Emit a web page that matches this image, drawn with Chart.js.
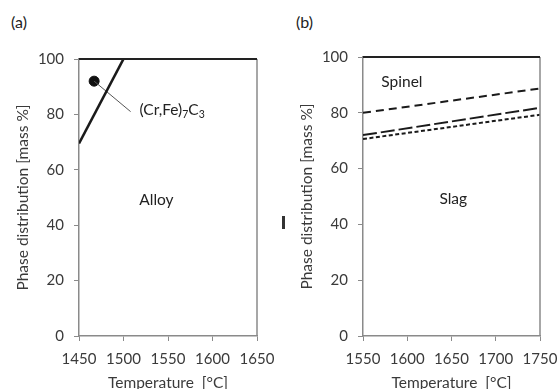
<!DOCTYPE html>
<html>
<head>
<meta charset="utf-8">
<script src="https://cdn.jsdelivr.net/npm/chart.js@4"></script>
<style>
  html, body { margin: 0; padding: 0; background: #fff; overflow: hidden; }
  #page { position: relative; width: 557px; height: 389px; overflow: hidden; }
  .panel { position: absolute; top: 0; }
  .tag { position: absolute; top: 12px; font: 16px Lato, sans-serif; color: #222; }
  #mark { position: absolute; left: 282px; top: 216px; width: 3px; height: 13px; background: #333; }
</style>
</head>
<body>
<div id="page">
  <div class="tag" style="left:11px">(a)</div>
  <div class="tag" style="left:296px">(b)</div>
  <canvas id="chartA" class="panel" style="left:0" width="275" height="395"></canvas>
  <canvas id="chartB" class="panel" style="left:280px" width="277" height="395"></canvas>
  <div id="mark"></div>
</div>
<script>
// Panel (a) data
const tempTicksA = [1450, 1500, 1550, 1600, 1650];
const boundaryTempA = [1450, 1500];
const boundaryValueA = [69.5, 100];
const carbideTemp = [1467];
const carbideValue = [92];
const leaderTemp = [1467, 1508];
const leaderValue = [92, 81];

// Panel (b) data
const tempTicksB = [1550, 1600, 1650, 1700, 1750];
const lineTempB = [1550, 1750];
const spinelUpper = [80, 88.7];
const longDashLine = [72, 81.8];
const shortDashLine = [70.6, 79.3];

const yTicks = [0, 20, 40, 60, 80, 100];

const fontFamily = 'Lato, sans-serif';
const textColor = '#3a3a3a';
const axisColor = '#8a8a8a';

function pts(xs, ys) {
  return xs.map(function(x, i) { return { x: x, y: ys[i] }; });
}

// frame (top + right edge) and text labels inside the plot
function makeOverlay(labels) {
  return {
    id: 'overlay',
    afterDatasetsDraw: function(chart) {
      const ctx = chart.ctx;
      const a = chart.chartArea;
      const xs = chart.scales.x;
      const ys = chart.scales.y;
      ctx.save();
      ctx.strokeStyle = axisColor;
      ctx.lineWidth = 1.5;
      ctx.beginPath();
      ctx.moveTo(a.right, a.top);
      ctx.lineTo(a.right, a.bottom);
      ctx.stroke();
      ctx.strokeStyle = '#222';
      ctx.lineWidth = 2;
      ctx.beginPath();
      ctx.moveTo(a.left, a.top);
      ctx.lineTo(a.right, a.top);
      ctx.stroke();

      ctx.fillStyle = '#222';
      ctx.textBaseline = 'middle';
      labels.forEach(function(l) {
        let x = xs.getPixelForValue(l.x);
        const y = ys.getPixelForValue(l.y);
        l.parts.forEach(function(p) {
          ctx.font = (p.sub ? 10.5 : 15.5) + 'px ' + fontFamily;
          ctx.textAlign = (l.align !== 'left' && l.parts.length === 1) ? 'center' : 'left';
          ctx.fillText(p.t, x, y + (p.sub ? 4 : 0));
          x += ctx.measureText(p.t).width;
        });
      });
      ctx.restore();
    }
  };
}

function makeOptions(xMin, xMax, xTicks, yAxisWidth, padTop, padRight, yTitlePad) {
  return {
    responsive: false,
    animation: false,
    devicePixelRatio: 1,
    layout: { padding: { top: padTop, right: padRight, left: 0, bottom: 0 } },
    plugins: { legend: { display: false }, tooltip: { enabled: false } },
    scales: {
      x: {
        type: 'linear',
        min: xMin,
        max: xMax,
        afterBuildTicks: function(scale) {
          scale.ticks = xTicks.map(function(v) { return { value: v }; });
        },
        afterFit: function(scale) {
          scale.height = 59;
          scale.paddingLeft = 0;
          scale.paddingRight = 0;
        },
        grid: { drawOnChartArea: false, drawTicks: true, tickLength: 5, color: axisColor },
        border: { color: axisColor, width: 1.5 },
        ticks: { maxRotation: 0, autoSkip: false, padding: 9, color: textColor,
                 font: { family: fontFamily, size: 15 },
                 callback: function(v) { return String(v); } },
        title: { display: true, text: 'Temperature  [°C]', color: textColor,
                 font: { family: fontFamily, size: 15.5, lineHeight: 1.2 },
                 padding: { top: 0, bottom: 3 } }
      },
      y: {
        min: 0,
        max: 100,
        afterBuildTicks: function(scale) {
          scale.ticks = yTicks.map(function(v) { return { value: v }; });
        },
        afterFit: function(scale) {
          scale.width = yAxisWidth;
          scale.paddingTop = 0;
          scale.paddingBottom = 0;
        },
        grid: { drawOnChartArea: false, drawTicks: true, tickLength: 5, color: axisColor },
        border: { color: axisColor, width: 1.5 },
        ticks: { padding: 10, color: textColor, font: { family: fontFamily, size: 15 } },
        title: { display: true, text: 'Phase distribution [mass %]', color: textColor,
                 font: { family: fontFamily, size: 15.5, lineHeight: 1.2 },
                 padding: { top: yTitlePad, bottom: 0 } }
      }
    }
  };
}

new Chart(document.getElementById('chartA'), {
  type: 'line',
  data: {
    datasets: [
      { data: pts(boundaryTempA, boundaryValueA), borderColor: '#1a1a1a', borderWidth: 2.6,
        pointRadius: 0, fill: false },
      { data: pts(leaderTemp, leaderValue), borderColor: '#555', borderWidth: 1,
        pointRadius: 0, fill: false },
      { data: pts(carbideTemp, carbideValue), showLine: false, pointRadius: 5,
        pointBackgroundColor: '#111', pointBorderColor: '#111' }
    ]
  },
  options: makeOptions(1450, 1650, tempTicksA, 79, 59, 18, 14),
  plugins: [makeOverlay([
    { x: 1537, y: 49, parts: [{ t: 'Alloy' }] },
    { x: 1518, y: 81.5, align: 'left',
      parts: [{ t: '(Cr,Fe)' }, { t: '7', sub: true }, { t: 'C' }, { t: '3', sub: true }] }
  ])]
});

new Chart(document.getElementById('chartB'), {
  type: 'line',
  data: {
    datasets: [
      { data: pts(lineTempB, spinelUpper), borderColor: '#1a1a1a', borderWidth: 2,
        borderDash: [8, 5], pointRadius: 0, fill: false },
      { data: pts(lineTempB, longDashLine), borderColor: '#1a1a1a', borderWidth: 2,
        borderDash: [14, 4], pointRadius: 0, fill: false },
      { data: pts(lineTempB, shortDashLine), borderColor: '#1a1a1a', borderWidth: 2,
        borderDash: [4, 2.5], pointRadius: 0, fill: false }
    ]
  },
  options: makeOptions(1550, 1750, tempTicksB, 83, 57, 17, 18),
  plugins: [makeOverlay([
    { x: 1594, y: 91, parts: [{ t: 'Spinel' }] },
    { x: 1652, y: 49, parts: [{ t: 'Slag' }] }
  ])]
});
</script>
</body>
</html>
